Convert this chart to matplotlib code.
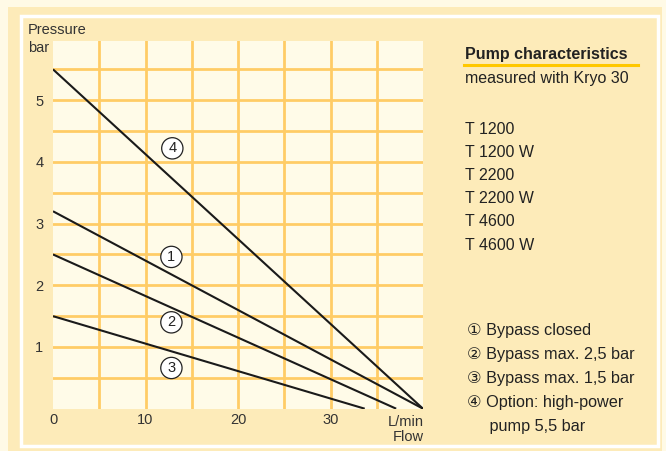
import matplotlib
matplotlib.use("Agg")
import matplotlib.pyplot as plt
from matplotlib.patches import Rectangle
from matplotlib import font_manager

# Data
curve_ids = ["①", "②", "③", "④"]
flow_start = [0, 0, 0, 0]
flow_end = [40, 37.1, 33.7, 40]
pressure_start = [3.2, 2.5, 1.5, 5.5]
pressure_end = [0, 0, 0, 0]
label_x = [12.8, 12.8, 12.8, 12.9]
label_y = [2.46, 1.40, 0.66, 4.22]
x_ticks = [0, 10, 20, 30]
y_ticks = [1, 2, 3, 4, 5]
models = ["T 1200", "T 1200 W", "T 2200", "T 2200 W", "T 4600", "T 4600 W"]
legend_lines = ["① Bypass closed", "② Bypass max. 2,5 bar", "③ Bypass max. 1,5 bar",
                "④ Option: high-power", "     pump 5,5 bar"]

W, H = 666, 451
names = {f.name for f in font_manager.fontManager.ttflist}
narrow = "Liberation Sans Narrow" in names
main_font = "Liberation Sans Narrow" if narrow else "Liberation Sans"
FONT = [main_font, "DejaVu Sans"]
plt.rcParams['font.family'] = FONT
scale = 1.0 if narrow else 0.88

fig = plt.figure(figsize=(W / 100, H / 100), dpi=100)
fig.patch.set_facecolor("#FFFAE6")

def px(x, y):
    return x / W, 1 - y / H

# peach panel
fig.patches.append(Rectangle((8 / W, 0), (662 - 8) / W, (H - 7) / H, transform=fig.transFigure,
                             facecolor="#FDEBB9", edgecolor="none", zorder=-2))
# white frame line
fig.patches.append(Rectangle((20.5 / W, (H - 446) / H), (658 - 20.5) / W, (446 - 15.5) / H,
                             transform=fig.transFigure, facecolor="none", edgecolor="white",
                             linewidth=2.5, zorder=-1))

left, right, top, bottom = 53, 423, 41, 408.7
ax = fig.add_axes([left / W, (H - bottom) / H, (right - left) / W, (bottom - top) / H])
ax.set_zorder(2)
ax.set_facecolor("#FFFBE8")
ax.set_xlim(0, 40)
ax.set_ylim(0, (bottom - top) / 61.7)
for s in ax.spines.values():
    s.set_visible(False)

for gx in range(5, 40, 5):
    ax.axvline(gx, color="#FFCC66", linewidth=2.0, zorder=1)
for i in range(1, 12):
    ax.axhline(i * 0.5, color="#FFCC66", linewidth=2.0, zorder=1)

for xs, xe, ys, ye in zip(flow_start, flow_end, pressure_start, pressure_end):
    ax.plot([xs, xe], [ys, ye], color="#1A1A1A", linewidth=1.5, zorder=3, solid_capstyle="butt")

for k, (lx, ly) in enumerate(zip(label_x, label_y)):
    ax.text(lx, ly, str(k + 1), ha="center", va="center", fontsize=10.5,
            color="#222222", zorder=4,
            bbox=dict(boxstyle="circle,pad=0.25", facecolor="white", edgecolor="#222222", linewidth=0.9))

ax.set_xticks(x_ticks)
ax.set_xticklabels([str(t) for t in x_ticks])
ax.set_yticks(y_ticks)
ax.set_yticklabels([str(t) for t in y_ticks])
ax.tick_params(axis="x", length=0, labelsize=10.5, colors="#333333", pad=3)
ax.tick_params(axis="y", length=0, labelsize=10.5, colors="#333333", pad=7)

fs_small = 10.5
fs = 12.5 if narrow else 11.5
fig.text(*px(28, 30), "Pressure", fontsize=fs_small, color="#333333", va="center", ha="left")
fig.text(*px(28, 48), "bar", fontsize=fs_small, color="#333333", va="center", ha="left")
fig.text(*px(424, 422), "L/min", fontsize=fs_small, color="#333333", va="center", ha="right")
fig.text(*px(424, 437), "Flow", fontsize=fs_small, color="#333333", va="center", ha="right")

fig.text(*px(465, 55), "Pump characteristics", fontsize=fs, fontweight="bold",
         color="#222222", va="center", ha="left")
fig.add_artist(plt.Line2D([464 / W, 638 / W], [1 - 65 / H, 1 - 65 / H], color="#FFC800",
                          linewidth=2.2, transform=fig.transFigure))
fig.text(*px(465, 78), "measured with Kryo 30", fontsize=fs, color="#222222", va="center", ha="left")
for i, m in enumerate(models):
    fig.text(*px(465, 129 + i * 23.2), m, fontsize=fs, color="#222222", va="center", ha="left")
for i, l in enumerate(legend_lines):
    fig.text(*px(467, 331 + i * 23.8), l, fontsize=fs + 0.2, color="#222222", va="center", ha="left")

fig.savefig("out.png", dpi=100, facecolor=fig.get_facecolor())
